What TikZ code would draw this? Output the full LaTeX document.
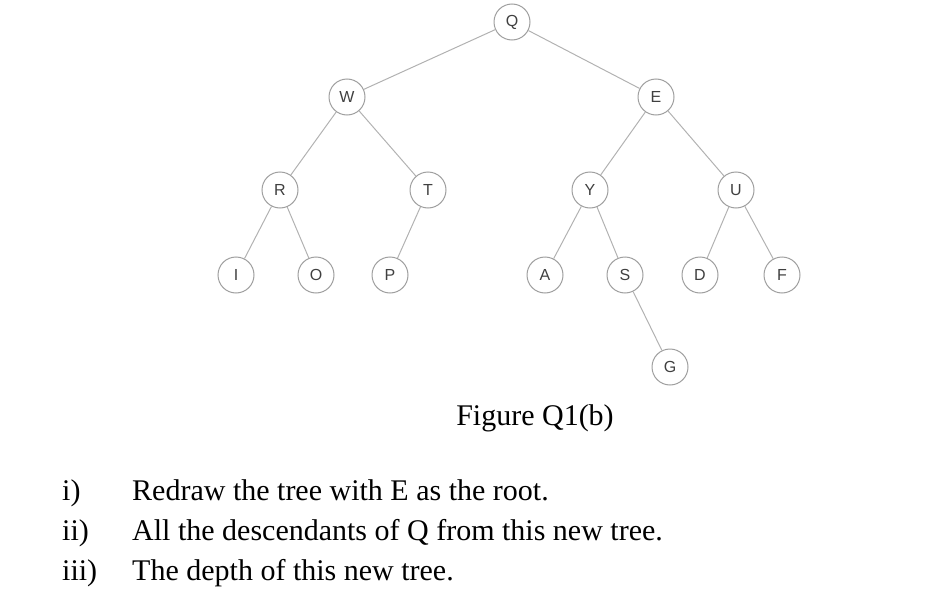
\documentclass[tikz,border=0pt]{standalone}
\usepackage{fontspec}
\setmainfont{Liberation Serif}
\newfontfamily\nodefont{Liberation Sans}
\begin{document}
\begin{tikzpicture}[x=1pt,y=-1pt,
  tn/.style={circle,draw=gray!75,line width=1pt,minimum size=36pt,inner sep=0pt,font=\nodefont\fontsize{16}{16}\selectfont,text=black!75,fill=white},
  ed/.style={draw=gray!60,line width=1pt},
  tx/.style={anchor=base west,font=\fontsize{30}{30}\selectfont,inner sep=0pt}]
\useasboundingbox (0,0) rectangle (946,613);
\node[tn] (Q) at (512,22) {Q};
\node[tn] (W) at (347,97) {W};
\node[tn] (E) at (656,97) {E};
\node[tn] (R) at (280,190) {R};
\node[tn] (T) at (428,190) {T};
\node[tn] (Y) at (590,190) {Y};
\node[tn] (U) at (736,190) {U};
\node[tn] (I) at (236,275) {I};
\node[tn] (O) at (316,275) {O};
\node[tn] (P) at (390,275) {P};
\node[tn] (A) at (545,275) {A};
\node[tn] (S) at (625,275) {S};
\node[tn] (D) at (700,275) {D};
\node[tn] (F) at (782,275) {F};
\node[tn] (G) at (670,367) {G};
\foreach \a/\b in {Q/W,Q/E,W/R,W/T,R/I,R/O,T/P,E/Y,E/U,Y/A,Y/S,S/G,U/D,U/F}
  \draw[ed] (\a) -- (\b);
\node[font=\fontsize{30}{30}\selectfont,anchor=base,inner sep=0pt] (cap) at (535,425) {Figure Q1(b)};
\node[tx] (n1) at (62,500) {i)};
\node[tx] (t1) at (132,500) {Redraw the tree with E as the root.};
\node[tx] (n2) at (62,540) {ii)};
\node[tx] (t2) at (132,540) {All the descendants of Q from this new tree.};
\node[tx] (n3) at (62,580) {iii)};
\node[tx] (t3) at (132,580) {The depth of this new tree.};
\end{tikzpicture}
\end{document}
